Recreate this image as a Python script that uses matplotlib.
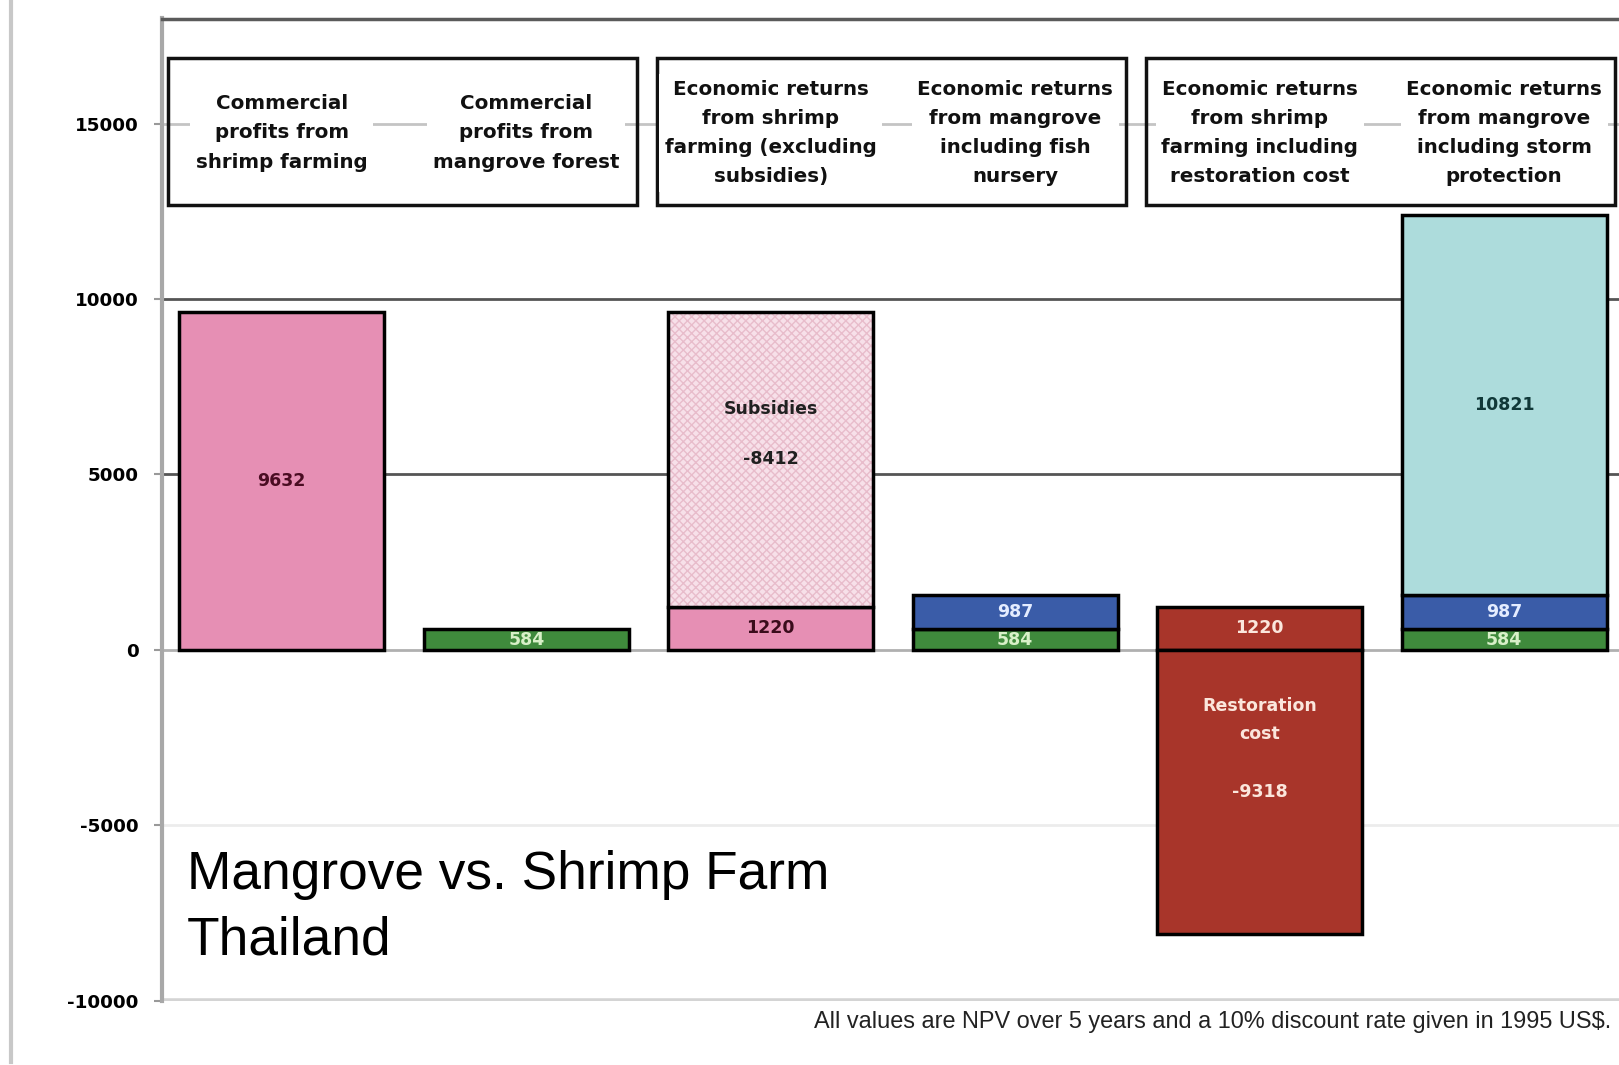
import matplotlib.pyplot as plt
from matplotlib.lines import Line2D
from matplotlib.patches import Rectangle

# values in 1995 US$ (NPV)
box_labels = [
    "Commercial\nprofits from\nshrimp farming",
    "Commercial\nprofits from\nmangrove forest",
    "Economic returns\nfrom shrimp\nfarming (excluding\nsubsidies)",
    "Economic returns\nfrom mangrove\nincluding fish\nnursery",
    "Economic returns\nfrom shrimp\nfarming including\nrestoration cost",
    "Economic returns\nfrom mangrove\nincluding storm\nprotection",
]
shrimp_profit = 9632
forest_profit = 584
shrimp_net = 1220
subsidies = -8412
fish_nursery = 987
restoration = -9318
storm_protection = 10821

yticks = [15000, 10000, 5000, 0, -5000, -10000]
title = "Mangrove vs. Shrimp Farm\nThailand"
footer = "All values are NPV over 5 years and a 10% discount rate given in 1995 US$."

PINK = "#e68fb4"
PALE = "#f7e0e9"
GREEN = "#3f8a3c"
BLUE = "#3a5ca8"
CYAN = "#addcdc"
RED = "#a8352a"

plt.rcParams['font.family'] = ['Liberation Sans', 'DejaVu Sans']
BOLD = dict(family="DejaVu Sans", fontweight="bold")

fig = plt.figure(figsize=(16.19, 10.65), dpi=100)
ax = fig.add_axes([162 / 1619, 1 - 1000.5 / 1065, 1 - 162 / 1619, 982 / 1065])
ax.set_xlim(-0.49, 5.47)
ax.set_ylim(-10000, 18000)

x = list(range(6))
w = 0.838
edge = dict(edgecolor="black", linewidth=2.5)

# gridlines
grid_cols = {15000: "#c4c4c4", 10000: "#555555", 5000: "#555555", 0: "#b0b0b0", -5000: "#ececec"}
for yv, c in grid_cols.items():
    ax.axhline(yv, color=c, lw=2, zorder=0)

# bar 1 / 2
ax.bar(x[0], shrimp_profit, w, color=PINK, **edge, zorder=2)
ax.bar(x[1], forest_profit, w, color=GREEN, **edge, zorder=2)
# bar 3: net + subsidies
ax.bar(x[2], shrimp_net, w, color=PINK, **edge, zorder=2)
ax.bar(x[2], -subsidies, w, bottom=shrimp_net, color=PALE, edgecolor="#e8bccb",
       hatch="xxxx", linewidth=0, zorder=2)
ax.bar(x[2], -subsidies, w, bottom=shrimp_net, fill=False, **edge, zorder=3)
# bar 4
ax.bar(x[3], forest_profit, w, color=GREEN, **edge, zorder=2)
ax.bar(x[3], fish_nursery, w, bottom=forest_profit, color=BLUE, **edge, zorder=2)
# bar 5
ax.bar(x[4], shrimp_net, w, color=RED, **edge, zorder=2)
ax.bar(x[4], restoration + shrimp_net, w, color=RED, **edge, zorder=2)
# bar 6
ax.bar(x[5], forest_profit, w, color=GREEN, **edge, zorder=2)
ax.bar(x[5], fish_nursery, w, bottom=forest_profit, color=BLUE, **edge, zorder=2)
ax.bar(x[5], storm_protection, w, bottom=forest_profit + fish_nursery, color=CYAN, **edge, zorder=2)

lbl = dict(ha="center", va="center", fontsize=12.5, zorder=5, **BOLD)
ax.text(x[0], shrimp_profit / 2, str(shrimp_profit), color="#4a0c22", **lbl)
ax.text(x[1], forest_profit / 2, str(forest_profit), color="#d8f0c8", **lbl)
ax.text(x[2], shrimp_net / 2, str(shrimp_net), color="#3a0c1c", **lbl)
sub_mid = shrimp_net - subsidies / 2
ax.text(x[2], sub_mid + 1450, "Subsidies", color="#202020", **lbl)
ax.text(x[2], sub_mid, str(subsidies), color="#202020", **lbl)
ax.text(x[3], forest_profit / 2, str(forest_profit), color="#d8f0c8", **lbl)
ax.text(x[3], forest_profit + fish_nursery / 2, str(fish_nursery), color="#e4ecff", **lbl)
ax.text(x[4], shrimp_net / 2, str(shrimp_net), color="#fbe6dc", **lbl)
rest_mid = (restoration + shrimp_net) / 2
ax.text(x[4], rest_mid + 2050, "Restoration\ncost", color="#fbe6dc", linespacing=1.75, **lbl)
ax.text(x[4], rest_mid, str(restoration), color="#fbe6dc", **lbl)
ax.text(x[5], forest_profit / 2, str(forest_profit), color="#d8f0c8", **lbl)
ax.text(x[5], forest_profit + fish_nursery / 2, str(fish_nursery), color="#e4ecff", **lbl)
ax.text(x[5], forest_profit + fish_nursery + storm_protection / 2, str(storm_protection),
        color="#103838", **lbl)

# header boxes, one per pair of bars
for i in range(0, 6, 2):
    ax.add_patch(Rectangle((x[i] - 0.465, 12670), (x[i + 1] + 0.455) - (x[i] - 0.465), 4200,
                           fill=False, edgecolor="#111111", linewidth=2.5, zorder=4))
for i, t in enumerate(box_labels):
    ax.text(x[i], 14740, t, ha="center", va="center", fontsize=14.3,
            linespacing=1.68, color="#111111", zorder=5, **BOLD,
            bbox=dict(facecolor="white", edgecolor="none", pad=4))

ax.set_xticks([])
ax.set_yticks(yticks)
ax.set_yticklabels([str(v) for v in yticks], fontsize=13.2, **BOLD)
ax.tick_params(axis="y", length=6, width=1.5, color="#999999", pad=11)
for s in ["right", "bottom"]:
    ax.spines[s].set_visible(False)
ax.spines["left"].set_color("#a8a8a8")
ax.spines["left"].set_linewidth(3)
ax.spines["top"].set_color("#5a5a5a")
ax.spines["top"].set_linewidth(2.5)
ax.axhline(-10000, color="#d4d4d4", lw=4, zorder=1)

title_txt = ax.text(0.017, 0.1534, title, transform=ax.transAxes,
                    fontsize=40, ha="left", va="top", zorder=6)
foot_txt = fig.text(0.995, 1 - 1022 / 1065, footer, ha="right", va="center", fontsize=15,
                    color="#222222")

# scale the two free texts so their widths match the original
r = fig.canvas.get_renderer()
for t, target in [(title_txt, 641), (foot_txt, 800)]:
    bw = t.get_window_extent(r).width
    t.set_fontsize(t.get_fontsize() * target / bw)
fs = title_txt.get_fontsize()
title_txt.set_linespacing(64 / (fs * 100 / 72 * 0.866))

fig.add_artist(Line2D([11 / 1619, 11 / 1619], [1 - 1062 / 1065, 1.0], color="#c8c8c8", lw=3))

fig.savefig("out.png", dpi=100)
